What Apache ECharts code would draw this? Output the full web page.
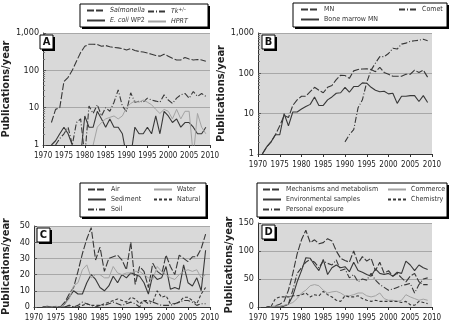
<!DOCTYPE html>
<html>
<head>
<meta charset="utf-8">
<script src="https://cdn.jsdelivr.net/npm/echarts@6/dist/echarts.min.js"></script>
<style>
  html, body { margin: 0; padding: 0; background: #fff; }
  #main { width: 454px; height: 325px; }
</style>
</head>
<body>
<div id="main"></div>
<script>
const years = [1970, 1971, 1972, 1973, 1974, 1975, 1976, 1977, 1978, 1979,
  1980, 1981, 1982, 1983, 1984, 1985, 1986, 1987, 1988, 1989,
  1990, 1991, 1992, 1993, 1994, 1995, 1996, 1997, 1998, 1999,
  2000, 2001, 2002, 2003, 2004, 2005, 2006, 2007, 2008, 2009];

// panel A (log)
const salmonella = [null, null, 4, 9, 10, 50, 65, 100, 175, 300, 440, 500, 500, 490, 440, 460, 430, 410, 400, 380,
  350, 380, 340, 320, 310, 290, 270, 250, 240, 270, 240, 210, 190, 190, 220, 200, 190, 195, 190, 175];
const ecoliWP2 = [null, null, 1, 1.3, 2, 3, 2, 1, 0.5, 0.5, 6, 3, 3, 8, 5, 3, 5, 3, 3, 2,
  0.5, 0.5, 3, 2, 2, 3, 2, 6, 2, 8, 6, 4, 5, 3, 4, 4, 3, 2, 2, 3];
const tk = [null, null, null, 1, 1.5, 2, 3, 1, 4, 5, 0.5, 11, 7, 12, 6, 10, 8, 14, 30, 11,
  8, 25, 14, 15, 14, 18, 16, 15, 14, 22, 16, 13, 18, 22, 24, 18, 27, 20, 24, 20];
const hprt = [null, null, null, null, null, null, null, null, null, null, null, null, 1, 3, 4, 5, 5.5, 6, 5, 6,
  10, 13, 15, 14, 16, 14, 12, 9, 7, 9, 8, 5, 9, 5, 8, 8, 0.5, 7, 3, 2];

// panel B (log)
const mn = [null, 1, 1.5, 2, 3, 5, 9, 8, 16, 22, 27, 27, 35, 45, 38, 33, 45, 50, 70, 90,
  88, 75, 115, 125, 128, 130, 125, 110, 140, 105, 95, 85, 85, 85, 95, 95, 120, 105, 120, 80];
const boneMarrowMN = [null, 1, 1.5, 2, 3, 3, 10, 5, 11, 11, 13, 15, 17, 26, 16, 16, 22, 26, 32, 33,
  45, 34, 47, 47, 58, 57, 45, 38, 35, 36, 31, 32, 18, 27, 27, 28, 28, 20, 28, 19];
const comet = [null, null, null, null, null, null, null, null, null, null, null, null, null, null, null, null, null, null, null, null,
  2, 3, 4, 14, 22, 60, 120, 180, 260, 260, 310, 420, 400, 530, 560, 620, 640, 660, 700, 640];

// panel C
const air = [null, null, 0, 0, 0, 0, 0, 3, 8, 12, 22, 33, 42, 49, 29, 37, 22, 30, 31, 32,
  29, 23, 40, 14, 25, 22, 12, 27, 22, 20, 32, 25, 20, 32, 30, 28, 31, 31, 36, 45];
const sediment = [null, null, 0, 0, 0, 0, 0, 2, 6, 10, 8, 8, 15, 20, 17, 12, 10, 13, 19, 15,
  20, 18, 21, 20, 19, 15, 8, 20, 17, 18, 25, 11, 12, 11, 26, 15, 13, 18, 10, 35];
const soil = [null, null, 0, 0.5, 0, 0, 0, 0, 1, 0, 1, 3, 2, 1, 0, 1, 1, 2, 3, 2,
  1, 2, 3, 2, 0, 4, 2, 3, 2, 1, 1, 1, 2, 3, 4, 4, 3, 1, 2, 2];
const water = [null, null, 0, 0, 0, 0.5, 0, 2, 5, 13, 15, 23, 26, 18, 20, 20, 18, 18, 25, 21,
  20, 21, 21, 22, 22, 20, 18, 17, 25, 22, 20, 18, 17, 20, 22, 23, 22, 23, 18, 20];
const natural = [null, null, 0, 0, 0, 0, 0, 0, 1, 0, 0, 1, 2, 1, 1, 1, 2, 3, 4, 5,
  4, 3, 6, 5, 2, 4, 4, 3, 10, 6, 7, 2, 2, 3, 6, 6, 4, 2, 8, 12];

// panel D
const mechanisms = [null, null, 0, 0, 2, 5, 10, 30, 60, 95, 120, 137, 115, 120, 113, 115, 122, 118, 100, 87,
  83, 80, 100, 78, 90, 82, 87, 65, 80, 60, 65, 55, 60, 52, 45, 55, 60, 45, 40, 40];
const envSamples = [null, null, 0, 0, 0, 1, 2, 5, 20, 45, 65, 88, 87, 75, 65, 85, 58, 70, 75, 70,
  72, 63, 80, 65, 62, 58, 55, 68, 60, 58, 60, 55, 62, 60, 82, 75, 65, 75, 70, 67];
const personal = [null, null, 0, 0, 0, 0, 1, 5, 30, 60, 70, 80, 85, 80, 70, 82, 78, 75, 84, 65,
  68, 52, 58, 45, 50, 48, 60, 48, 40, 35, 30, 32, 35, 38, 40, 42, 25, 40, 50, 52];
const commerce = [null, null, 0, 0, 2, 1, 3, 5, 8, 15, 25, 30, 38, 40, 38, 30, 25, 27, 28, 25,
  20, 20, 22, 25, 25, 20, 18, 20, 25, 15, 12, 12, 10, 12, 22, 18, 15, 12, 14, 12];
const chemistry = [null, null, 0, 1, 15, 18, 18, 18, 20, 20, 22, 25, 18, 22, 20, 28, 22, 18, 12, 10,
  20, 18, 18, 20, 15, 12, 10, 12, 10, 10, 10, 10, 10, 8, 10, 4, 3, 10, 8, 6];

const FONT = '"Liberation Sans Narrow", "DejaVu Sans Condensed", sans-serif';
const DARK = '#383838';
const LIGHT = '#a3a3a3';
const LONG = [7, 2];
const DASHDOT = [6, 2, 1, 2];
const SHORT = [3, 2];

const grids = [
  { left: 36, top: 33, width: 174, height: 112 },
  { left: 258, top: 33, width: 174, height: 121 },
  { left: 33, top: 226, width: 177, height: 81 },
  { left: 258, top: 223, width: 174, height: 84 }
];

const panels = [
  [
    { name: 'Salmonella', data: salmonella, color: DARK, type: LONG },
    { name: 'E. coli WP2', data: ecoliWP2, color: DARK, type: 'solid' },
    { name: 'Tk+/-', data: tk, color: DARK, type: DASHDOT },
    { name: 'HPRT', data: hprt, color: LIGHT, type: 'solid' }
  ],
  [
    { name: 'MN', data: mn, color: DARK, type: LONG },
    { name: 'Bone marrow MN', data: boneMarrowMN, color: DARK, type: 'solid' },
    { name: 'Comet', data: comet, color: DARK, type: DASHDOT }
  ],
  [
    { name: 'Air', data: air, color: DARK, type: LONG },
    { name: 'Sediment', data: sediment, color: DARK, type: 'solid' },
    { name: 'Soil', data: soil, color: DARK, type: DASHDOT },
    { name: 'Water', data: water, color: LIGHT, type: 'solid' },
    { name: 'Natural', data: natural, color: DARK, type: SHORT }
  ],
  [
    { name: 'Mechanisms and metabolism', data: mechanisms, color: DARK, type: LONG },
    { name: 'Environmental samples', data: envSamples, color: DARK, type: 'solid' },
    { name: 'Personal exposure', data: personal, color: DARK, type: DASHDOT },
    { name: 'Commerce', data: commerce, color: LIGHT, type: 'solid' },
    { name: 'Chemistry', data: chemistry, color: DARK, type: SHORT }
  ]
];

// legend boxes, each with its columns [left, names]
const legendBoxes = [
  { x: 80, y: 4, w: 128, h: 23, cols: [[86, ['Salmonella', 'E. coli WP2']], [147, ['Tk+/-', 'HPRT']]] },
  { x: 293, y: 3, w: 154, h: 24, cols: [[300, ['MN', 'Bone marrow MN']], [398, ['Comet']]] },
  { x: 80, y: 183, w: 126, h: 34, cols: [[87, ['Air', 'Sediment', 'Soil']], [153, ['Water', 'Natural']]] },
  { x: 257, y: 183, w: 190, h: 34, cols: [[262, ['Mechanisms and metabolism', 'Environmental samples', 'Personal exposure']], [387, ['Commerce', 'Chemistry']]] }
];

const labels = ['A', 'B', 'C', 'D'];

function pairs(vals) {
  return years.map((y, i) => [y, vals[i]]);
}

function legendName(name) {
  if (name === 'Salmonella') return '{i|Salmonella}';
  if (name === 'E. coli WP2') return '{i|E. coli} WP2';
  if (name === 'Tk+/-') return '{i|Tk}{sup|+/\u2013}';
  if (name === 'HPRT') return '{i|HPRT}';
  return name;
}

const series = [];
panels.forEach((list, p) => {
  list.forEach(s => {
    series.push({
      type: 'line',
      name: s.name,
      xAxisIndex: p,
      yAxisIndex: p,
      data: pairs(s.data),
      symbol: 'none',
      clip: true,
      silent: true,
      lineStyle: { color: s.color, width: s.color === LIGHT ? 1 : 1.1, type: s.type },
      itemStyle: { color: s.color }
    });
  });
});

const xAxes = grids.map((g, i) => ({
  type: 'value',
  gridIndex: i,
  min: 1970,
  max: 2010,
  interval: 5,
  axisLine: { lineStyle: { color: '#333', width: 1 } },
  axisTick: { show: true, length: 3, lineStyle: { color: '#333' } },
  axisLabel: { fontFamily: FONT, fontSize: 8, color: '#222', margin: 7, formatter: v => String(v) },
  splitLine: { show: false }
}));

const yCommon = {
  name: 'Publications/year',
  nameLocation: 'middle',
  nameGap: 22,
  nameTextStyle: { fontFamily: FONT, fontSize: 11, fontWeight: 'bold', color: '#222' },
  axisLine: { show: true, lineStyle: { color: '#333', width: 1 } },
  axisTick: { show: true, inside: true, length: 3, lineStyle: { color: '#555' } },
  axisLabel: { fontFamily: FONT, fontSize: 9, color: '#222', margin: 4 },
  splitLine: { show: true, lineStyle: { color: '#a8a8a8', width: 1 } }
};

const logLabel = Object.assign({}, yCommon.axisLabel, { formatter: v => v.toLocaleString('en-US') });
const yAxes = [
  Object.assign({}, yCommon, {
    type: 'log', logBase: 10, min: 1, max: 1000, gridIndex: 0,
    minorTick: { show: true, splitNumber: 9, length: 2, lineStyle: { color: '#777' } },
    axisLabel: logLabel
  }),
  Object.assign({}, yCommon, {
    type: 'log', logBase: 10, min: 1, max: 1000, gridIndex: 1,
    minorTick: { show: true, splitNumber: 9, length: 2, lineStyle: { color: '#777' } },
    axisLabel: logLabel
  }),
  Object.assign({}, yCommon, { type: 'value', min: 0, max: 50, interval: 10, gridIndex: 2 }),
  Object.assign({}, yCommon, { type: 'value', min: 0, max: 150, interval: 50, gridIndex: 3 })
];

const legends = [];
const graphics = [];
legendBoxes.forEach(b => {
  graphics.push({ type: 'rect', z: 1, shape: { x: b.x + 2, y: b.y + 2, width: b.w, height: b.h }, style: { fill: '#000' } });
  graphics.push({ type: 'rect', z: 1, shape: { x: b.x, y: b.y, width: b.w, height: b.h }, style: { fill: '#fff', stroke: '#000', lineWidth: 1 } });
  b.cols.forEach(([left, names]) => {
    legends.push({
      orient: 'vertical',
      left: left,
      top: b.y + 3,
      padding: 0,
      itemWidth: 18,
      itemHeight: 6,
      itemGap: 3,
      selectedMode: false,
      data: names,
      formatter: legendName,
      itemStyle: { opacity: 0 },
      textStyle: {
        fontFamily: FONT, fontSize: 7, color: '#333',
        rich: {
          i: { fontFamily: FONT, fontSize: 7, fontStyle: 'italic', color: '#333' },
          sup: { fontFamily: FONT, fontSize: 5, color: '#333', verticalAlign: 'top', padding: [0, 0, 4, 0] }
        }
      }
    });
  });
});

grids.forEach((g, i) => {
  graphics.push({ type: 'rect', z: 100, shape: { x: g.left + 6, y: g.top + 4, width: 13, height: 14 }, style: { fill: '#000' } });
  graphics.push({ type: 'rect', z: 101, shape: { x: g.left + 4, y: g.top + 2, width: 13, height: 14 }, style: { fill: '#fff', stroke: '#000', lineWidth: 1 } });
  graphics.push({
    type: 'text', z: 102, x: g.left + 10.5, y: g.top + 9.5,
    style: { text: labels[i], fontFamily: FONT, fontSize: 11, fontWeight: 'bold', fill: '#111', align: 'center', verticalAlign: 'middle' }
  });
});

const chart = echarts.init(document.getElementById('main'), null, { renderer: 'canvas' });
chart.setOption({
  animation: false,
  backgroundColor: '#fff',
  grid: grids.map(g => Object.assign({ show: true, backgroundColor: '#d9d9d9', borderWidth: 0, containLabel: false }, g)),
  xAxis: xAxes,
  yAxis: yAxes,
  legend: legends,
  graphic: graphics,
  series: series
});
</script>
</body>
</html>
